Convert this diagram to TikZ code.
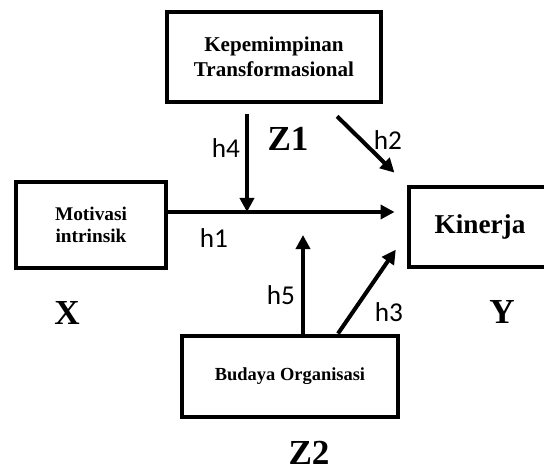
\documentclass[tikz,border=0pt]{standalone}
\usepackage{fontspec}
\setmainfont{Liberation Serif}
\newfontfamily\hfont{Carlito}
\usetikzlibrary{arrows.meta,calc}

\begin{document}
\begin{tikzpicture}[x=0.02cm,y=-0.02cm,
  varbox/.style={draw, line width=2.8pt, inner sep=0pt, align=center},
  arr/.style={line width=2.3pt, -{Triangle[length=8pt,width=8pt]}},
  hlab/.style={font=\hfont\fontsize{15.5}{17}\selectfont},
  code/.style={inner sep=1pt, font=\bfseries\fontsize{20}{22}\selectfont}]
\useasboundingbox (0,0) rectangle (544,473);


\node[varbox, minimum width=4.28cm, minimum height=1.8cm, font=\bfseries\fontsize{12}{14.2}\selectfont] (lead) at (274,57) {Kepemimpinan\\Transformasional};
\node[varbox, minimum width=3cm, minimum height=1.72cm, font=\bfseries\fontsize{11}{12.5}\selectfont] (mot) at (91,225) {Motivasi\\intrinsik};
\node[varbox, minimum width=2.84cm, minimum height=1.6cm, font=\bfseries\fontsize{15.5}{17}\selectfont] (kin) at (480,227) {Kinerja};
\node[varbox, minimum width=4.32cm, minimum height=1.62cm, font=\bfseries\fontsize{10.5}{12}\selectfont] (cult) at (290,376.5) {Budaya Organisasi};

\coordinate (m1) at (247,212);
\coordinate (m2) at (303,235);


\draw[arr, shorten >=0.24cm] (mot.east |- m1) -- (kin.west |- m1);
\draw[arr, shorten <=0.2cm] (lead.south -| m1) -- (m1);
\draw[arr, shorten <=0.34cm, shorten >=0.34cm] ($(lead.south)+(51,0)$) -- (kin.north west);
\draw[arr, shorten >=0.38cm] ($(cult.north)+(48,0)$) -- ($(kin.west)+(0,7)$);
\draw[arr] (cult.north -| m2) -- (m2);


\node[hlab] (l1) at (214,238) {h1};
\node[hlab] (l2) at (388,140) {h2};
\node[hlab] (l3) at (389,312) {h3};
\node[hlab] (l4) at (226,148) {h4};
\node[hlab] (l5) at (281,295) {h5};

\node[code] (z1) at (288,139) {Z1};
\node[code] (z2) at (309,453) {Z2};
\node[code] (x) at (67,313) {X};
\node[code] (y) at (502,312) {Y};
\end{tikzpicture}
\end{document}
